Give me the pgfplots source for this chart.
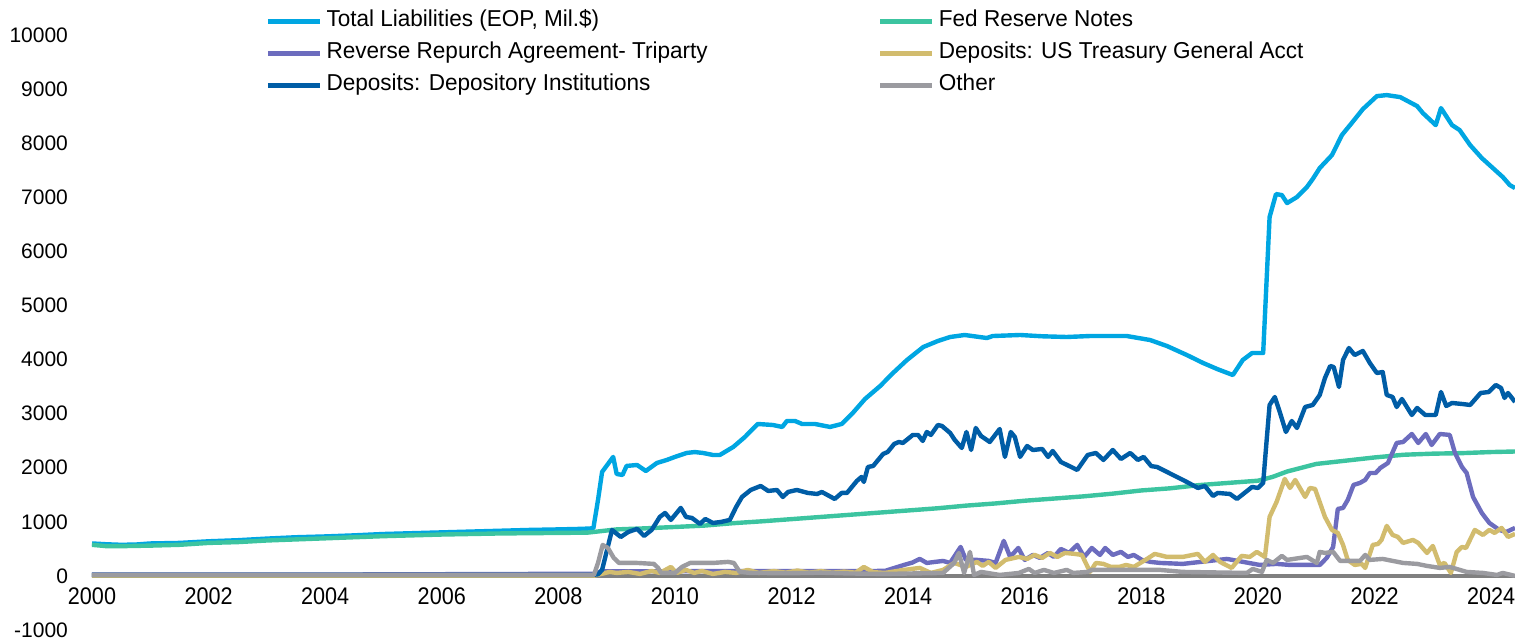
\documentclass[border=0pt]{standalone}
\usepackage{fontspec}
\setmainfont{Liberation Sans}
\newfontfamily\condfont{Liberation Sans}[FakeStretch=0.98]
\newfontfamily\xfont{Liberation Sans}[FakeStretch=0.9]
\usepackage{pgfplots}
\pgfplotsset{compat=1.18}
\definecolor{totliab}{RGB}{0,166,226}
\definecolor{fednotes}{RGB}{60,196,160}
\definecolor{rrp}{RGB}{108,108,190}
\definecolor{tga}{RGB}{210,188,110}
\definecolor{depinst}{RGB}{0,93,166}
\definecolor{other}{RGB}{155,155,160}
\definecolor{zeroline}{RGB}{128,128,128}

\begin{document}
\begin{tikzpicture}
\begin{axis}[
  scale only axis,
  width=711.5pt, height=297.5pt,
  xmin=2000, xmax=2024.41,
  ymin=-1000, ymax=10000,
  axis x line=middle, axis y line=left,
  y axis line style={draw=none},
  x axis line style={draw=zeroline, line width=1.6pt, -},
  hide obscured x ticks=false, hide obscured y ticks=false,
  major tick length=0pt,
  xtick={2000,2002,...,2024},
  ytick={-1000,0,...,10000},
  scaled y ticks=false, scaled x ticks=false,
  /pgf/number format/1000 sep={},
  /pgf/number format/assume math mode=true,
  xticklabel style={font=\xfont\fontsize{12}{14}\selectfont, yshift=-2.5pt},
  yticklabel style={font=\fontsize{10.5}{12}\selectfont, xshift=-8.5pt},
  every axis plot/.append style={line width=2.2pt, line join=round},
  legend columns=2,
  legend cell align=left,
  legend style={draw=none, fill=none, inner sep=0pt,
    at={(0.1215,1.045)}, anchor=north west,
    font=\condfont\fontsize{11.5}{13}\selectfont,
    row sep=3.5pt,
    /tikz/every even column/.append style={column sep=84pt},
    /tikz/every odd column/.append style={column sep=1pt},
    nodes={inner sep=1pt, text height=8pt, text depth=2.5pt}},
  legend image code/.code={\draw[#1, line width=2.6pt] (0pt,0pt) -- (26pt,0pt);},
]
% Total Liabilities
\addplot[totliab] coordinates {
(2000.00,600)(2000.25,585)(2000.5,575)(2000.75,580)(2001.0,600)(2001.5,610)
(2002.0,640)(2002.5,660)(2003.0,690)(2003.5,715)(2004.0,730)(2004.5,750)
(2005.0,775)(2005.5,790)(2006.0,805)(2006.5,820)(2007.0,835)(2007.5,850)
(2008.0,860)(2008.4,870)(2008.6,880)(2008.68,1404)(2008.75,1922)(2008.94,2200)
(2009.0,1885)(2009.1,1866)(2009.17,2033)(2009.35,2051)(2009.5,1940)(2009.69,2088)
(2009.86,2144)(2010.0,2200)(2010.2,2273)(2010.34,2290)(2010.48,2273)(2010.65,2236)
(2010.77,2236)(2011.0,2384)(2011.2,2569)(2011.42,2809)(2011.68,2790)(2011.84,2754)
(2011.92,2864)(2012.06,2864)(2012.18,2809)(2012.4,2809)(2012.66,2754)(2012.86,2809)
(2013.05,3012)(2013.26,3271)(2013.52,3511)(2013.74,3751)(2013.98,3992)(2014.26,4232)
(2014.51,4343)(2014.72,4417)(2014.97,4454)(2015.35,4398)(2015.45,4435)(2015.92,4454)
(2016.3,4430)(2016.72,4417)(2017.12,4435)(2017.75,4435)(2018.15,4361)(2018.44,4250)
(2018.78,4084)(2019.06,3936)(2019.3,3825)(2019.57,3714)(2019.74,3992)(2019.9,4121)
(2020.09,4121)(2020.2,6634)(2020.31,7059)(2020.41,7041)(2020.5,6893)(2020.67,7004)
(2020.84,7189)(2020.94,7337)(2021.06,7540)(2021.27,7780)(2021.44,8150)(2021.58,8334)
(2021.8,8630)(2022.04,8870)(2022.21,8889)(2022.44,8852)(2022.73,8686)(2022.83,8556)
(2023.05,8334)(2023.14,8649)(2023.33,8334)(2023.46,8242)(2023.64,7965)(2023.84,7725)
(2024.03,7540)(2024.2,7374)(2024.32,7226)(2024.41,7170)
};
\addlegendentry{Total Liabilities (EOP, Mil.\$)}
% Fed Reserve Notes
\addplot[fednotes] coordinates {
(2000.0,575)(2000.25,550)(2000.5,550)(2001.0,560)(2001.5,575)(2002.0,610)
(2002.5,625)(2003.0,655)(2003.5,675)(2004.0,695)(2004.5,715)(2005.0,735)
(2005.5,750)(2006.0,765)(2006.5,775)(2007.0,785)(2007.5,790)(2008.0,795)
(2008.5,800)(2009.0,860)(2009.5,880)(2010.0,905)(2010.5,930)(2011.0,975)
(2011.5,1010)(2012.0,1050)(2012.5,1090)(2013.0,1130)(2013.5,1170)(2014.0,1210)
(2014.5,1250)(2015.0,1300)(2015.5,1340)(2016.0,1390)(2016.5,1430)(2017.0,1470)
(2017.5,1520)(2018.0,1580)(2018.5,1620)(2019.0,1680)(2019.5,1720)(2020.0,1760)
(2020.25,1830)(2020.5,1930)(2021.0,2070)(2021.5,2130)(2022.0,2190)(2022.5,2240)
(2023.0,2260)(2023.5,2270)(2024.0,2290)(2024.41,2300)
};
\addlegendentry{Fed Reserve Notes}
% Reverse Repurchase Agreement - Triparty
\addplot[rrp] coordinates {
(2000.0,25)(2004.0,25)(2008.6,40)(2008.75,85)(2013.6,92)(2013.93,203)
(2014.07,246)(2014.2,314)(2014.32,240)(2014.46,259)(2014.6,277)(2014.72,240)
(2014.9,536)(2014.99,296)(2015.18,296)(2015.38,277)(2015.5,240)(2015.64,647)
(2015.75,351)(2015.89,517)(2016.0,296)(2016.14,388)(2016.26,333)(2016.4,425)
(2016.5,351)(2016.62,499)(2016.76,425)(2016.9,573)(2017.02,351)(2017.15,517)
(2017.29,388)(2017.38,517)(2017.51,388)(2017.65,444)(2017.77,351)(2017.87,388)
(2018.01,296)(2018.16,259)(2018.32,240)(2018.71,222)(2019.47,314)(2020.03,203)
(2020.32,222)(2020.55,203)(2021.06,203)(2021.18,333)(2021.29,536)(2021.37,1238)
(2021.46,1257)(2021.54,1404)(2021.64,1682)(2021.75,1719)(2021.84,1774)(2021.92,1903)
(2022.02,1903)(2022.1,1996)(2022.23,2088)(2022.38,2458)(2022.49,2476)(2022.64,2624)
(2022.75,2458)(2022.88,2624)(2022.98,2421)(2023.12,2624)(2023.29,2606)(2023.38,2273)
(2023.5,2014)(2023.58,1903)(2023.69,1460)(2023.84,1164)(2023.97,979)(2024.14,850)
(2024.26,813)(2024.41,887)
};
\addlegendentry{Reverse Repurch Agreement- Triparty}
% Deposits: US Treasury General Account
\addplot[tga] coordinates {
(2000.0,5)(2008.61,5)(2008.88,74)(2009.0,55)(2009.2,74)(2009.4,37)(2009.6,92)
(2009.74,55)(2009.93,166)(2010.03,55)(2010.19,111)(2010.33,55)(2010.46,92)
(2010.65,37)(2010.86,74)(2011.05,55)(2011.25,111)(2011.44,55)(2011.7,90)
(2011.9,60)(2012.1,100)(2012.3,60)(2012.5,90)(2012.7,60)(2012.9,80)(2013.1,60)
(2013.24,166)(2013.4,70)(2013.6,55)(2013.93,111)(2014.2,148)(2014.39,55)
(2014.6,111)(2014.79,240)(2014.99,166)(2015.18,259)(2015.28,185)(2015.38,259)
(2015.5,148)(2015.67,296)(2015.9,351)(2016.04,314)(2016.17,388)(2016.3,333)
(2016.43,425)(2016.56,351)(2016.69,425)(2016.86,407)(2016.98,388)(2017.12,74)
(2017.22,240)(2017.35,222)(2017.48,166)(2017.62,166)(2017.74,203)(2017.87,166)
(2018.07,296)(2018.23,407)(2018.44,351)(2018.71,351)(2018.97,407)(2019.09,259)
(2019.23,388)(2019.35,259)(2019.55,148)(2019.72,370)(2019.86,351)(2019.98,444)
(2020.12,351)(2020.2,1090)(2020.32,1368)(2020.46,1793)(2020.55,1626)(2020.64,1774)
(2020.81,1460)(2020.89,1626)(2020.98,1608)(2021.15,1090)(2021.27,850)(2021.37,795)
(2021.46,573)(2021.54,296)(2021.66,203)(2021.78,222)(2021.84,148)(2021.97,573)
(2022.06,591)(2022.12,665)(2022.21,924)(2022.31,758)(2022.4,721)(2022.49,610)
(2022.66,665)(2022.75,610)(2022.9,425)(2023.0,554)(2023.12,203)(2023.2,240)
(2023.31,55)(2023.41,444)(2023.5,536)(2023.57,517)(2023.72,850)(2023.86,758)
(2023.97,850)(2024.06,795)(2024.18,887)(2024.29,721)(2024.41,776)
};
\addlegendentry{Deposits: US Treasury General Acct}
% Deposits: Depository Institutions
\addplot[depinst] coordinates {
(2000.0,20)(2008.6,20)(2008.68,30)(2008.75,111)(2008.92,850)(2009.07,720)
(2009.2,813)(2009.35,869)(2009.47,739)(2009.6,850)(2009.74,1090)(2009.83,1164)
(2009.93,1035)(2010.1,1257)(2010.19,1090)(2010.29,1072)(2010.43,961)(2010.52,1053)
(2010.65,979)(2010.79,998)(2010.94,1035)(2011.05,1275)(2011.15,1460)(2011.3,1589)
(2011.47,1663)(2011.6,1571)(2011.75,1589)(2011.85,1460)(2011.94,1552)(2012.09,1589)
(2012.28,1534)(2012.44,1515)(2012.52,1552)(2012.74,1423)(2012.86,1534)(2012.95,1534)
(2013.12,1756)(2013.2,1830)(2013.24,1737)(2013.31,2014)(2013.4,2033)(2013.57,2254)
(2013.65,2292)(2013.76,2439)(2013.84,2476)(2013.91,2458)(2014.08,2606)(2014.17,2606)
(2014.25,2495)(2014.32,2661)(2014.39,2606)(2014.51,2790)(2014.58,2772)(2014.72,2643)
(2014.8,2513)(2014.92,2365)(2015.0,2661)(2015.08,2328)(2015.16,2735)(2015.25,2587)
(2015.4,2476)(2015.57,2716)(2015.66,2200)(2015.76,2661)(2015.83,2569)(2015.92,2200)
(2016.04,2402)(2016.14,2328)(2016.3,2347)(2016.4,2200)(2016.48,2310)(2016.62,2107)
(2016.9,1959)(2017.08,2236)(2017.22,2273)(2017.35,2144)(2017.51,2328)(2017.65,2162)
(2017.81,2273)(2017.94,2144)(2018.04,2200)(2018.17,2030)(2018.27,2014)(2018.44,1922)
(2018.61,1830)(2018.78,1737)(2018.97,1626)(2019.09,1663)(2019.23,1478)(2019.31,1534)
(2019.52,1515)(2019.64,1423)(2019.9,1645)(2020.0,1626)(2020.09,1719)(2020.15,2513)
(2020.2,3160)(2020.29,3308)(2020.38,3012)(2020.48,2661)(2020.58,2864)(2020.67,2735)
(2020.81,3123)(2020.94,3160)(2021.06,3345)(2021.15,3659)(2021.24,3881)(2021.3,3862)
(2021.39,3493)(2021.46,3992)(2021.56,4213)(2021.66,4084)(2021.8,4158)(2021.92,3936)
(2022.04,3751)(2022.14,3770)(2022.21,3345)(2022.31,3308)(2022.38,3123)(2022.47,3271)
(2022.64,2975)(2022.73,3105)(2022.87,2975)(2023.05,2975)(2023.14,3400)(2023.23,3142)
(2023.33,3197)(2023.5,3179)(2023.64,3160)(2023.82,3382)(2023.96,3400)(2024.08,3530)
(2024.17,3474)(2024.23,3290)(2024.29,3382)(2024.41,3216)
};
\addlegendentry{Deposits: Depository Institutions}
% Other
\addplot[other] coordinates {
(2000.0,20)(2008.61,18)(2008.68,240)(2008.76,573)(2008.85,517)(2008.95,333)
(2009.04,240)(2009.35,240)(2009.64,222)(2009.71,148)(2009.76,55)(2010.0,55)
(2010.12,166)(2010.26,240)(2010.52,240)(2010.65,240)(2010.91,259)(2011.01,240)
(2011.11,74)(2011.3,55)(2012.0,50)(2012.5,60)(2013.0,45)(2013.6,37)(2014.6,55)
(2014.79,240)(2014.87,425)(2014.96,55)(2015.06,444)(2015.13,18)(2015.25,74)
(2015.57,18)(2015.9,55)(2016.07,129)(2016.17,55)(2016.33,111)(2016.5,55)
(2016.72,111)(2016.83,55)(2017.08,74)(2017.15,111)(2018.32,111)(2018.71,74)
(2019.81,55)(2019.91,129)(2020.07,74)(2020.15,296)(2020.26,240)(2020.41,370)
(2020.5,296)(2020.84,351)(2021.01,240)(2021.06,444)(2021.15,425)(2021.29,444)
(2021.41,277)(2021.75,277)(2021.84,388)(2021.92,296)(2022.14,314)(2022.49,240)
(2022.73,222)(2022.9,185)(2023.12,148)(2023.29,166)(2023.58,74)(2023.86,55)
(2024.1,18)(2024.2,55)(2024.41,0)
};
\addlegendentry{Other}
\coordinate (bl) at (rel axis cs:0,0);
\coordinate (tr) at (rel axis cs:1,1);
\end{axis}
\pgfresetboundingbox
\path[use as bounding box] ([xshift=-46pt,yshift=-4.5pt]bl) rectangle ([yshift=17.5pt]tr);
\end{tikzpicture}
\end{document}
